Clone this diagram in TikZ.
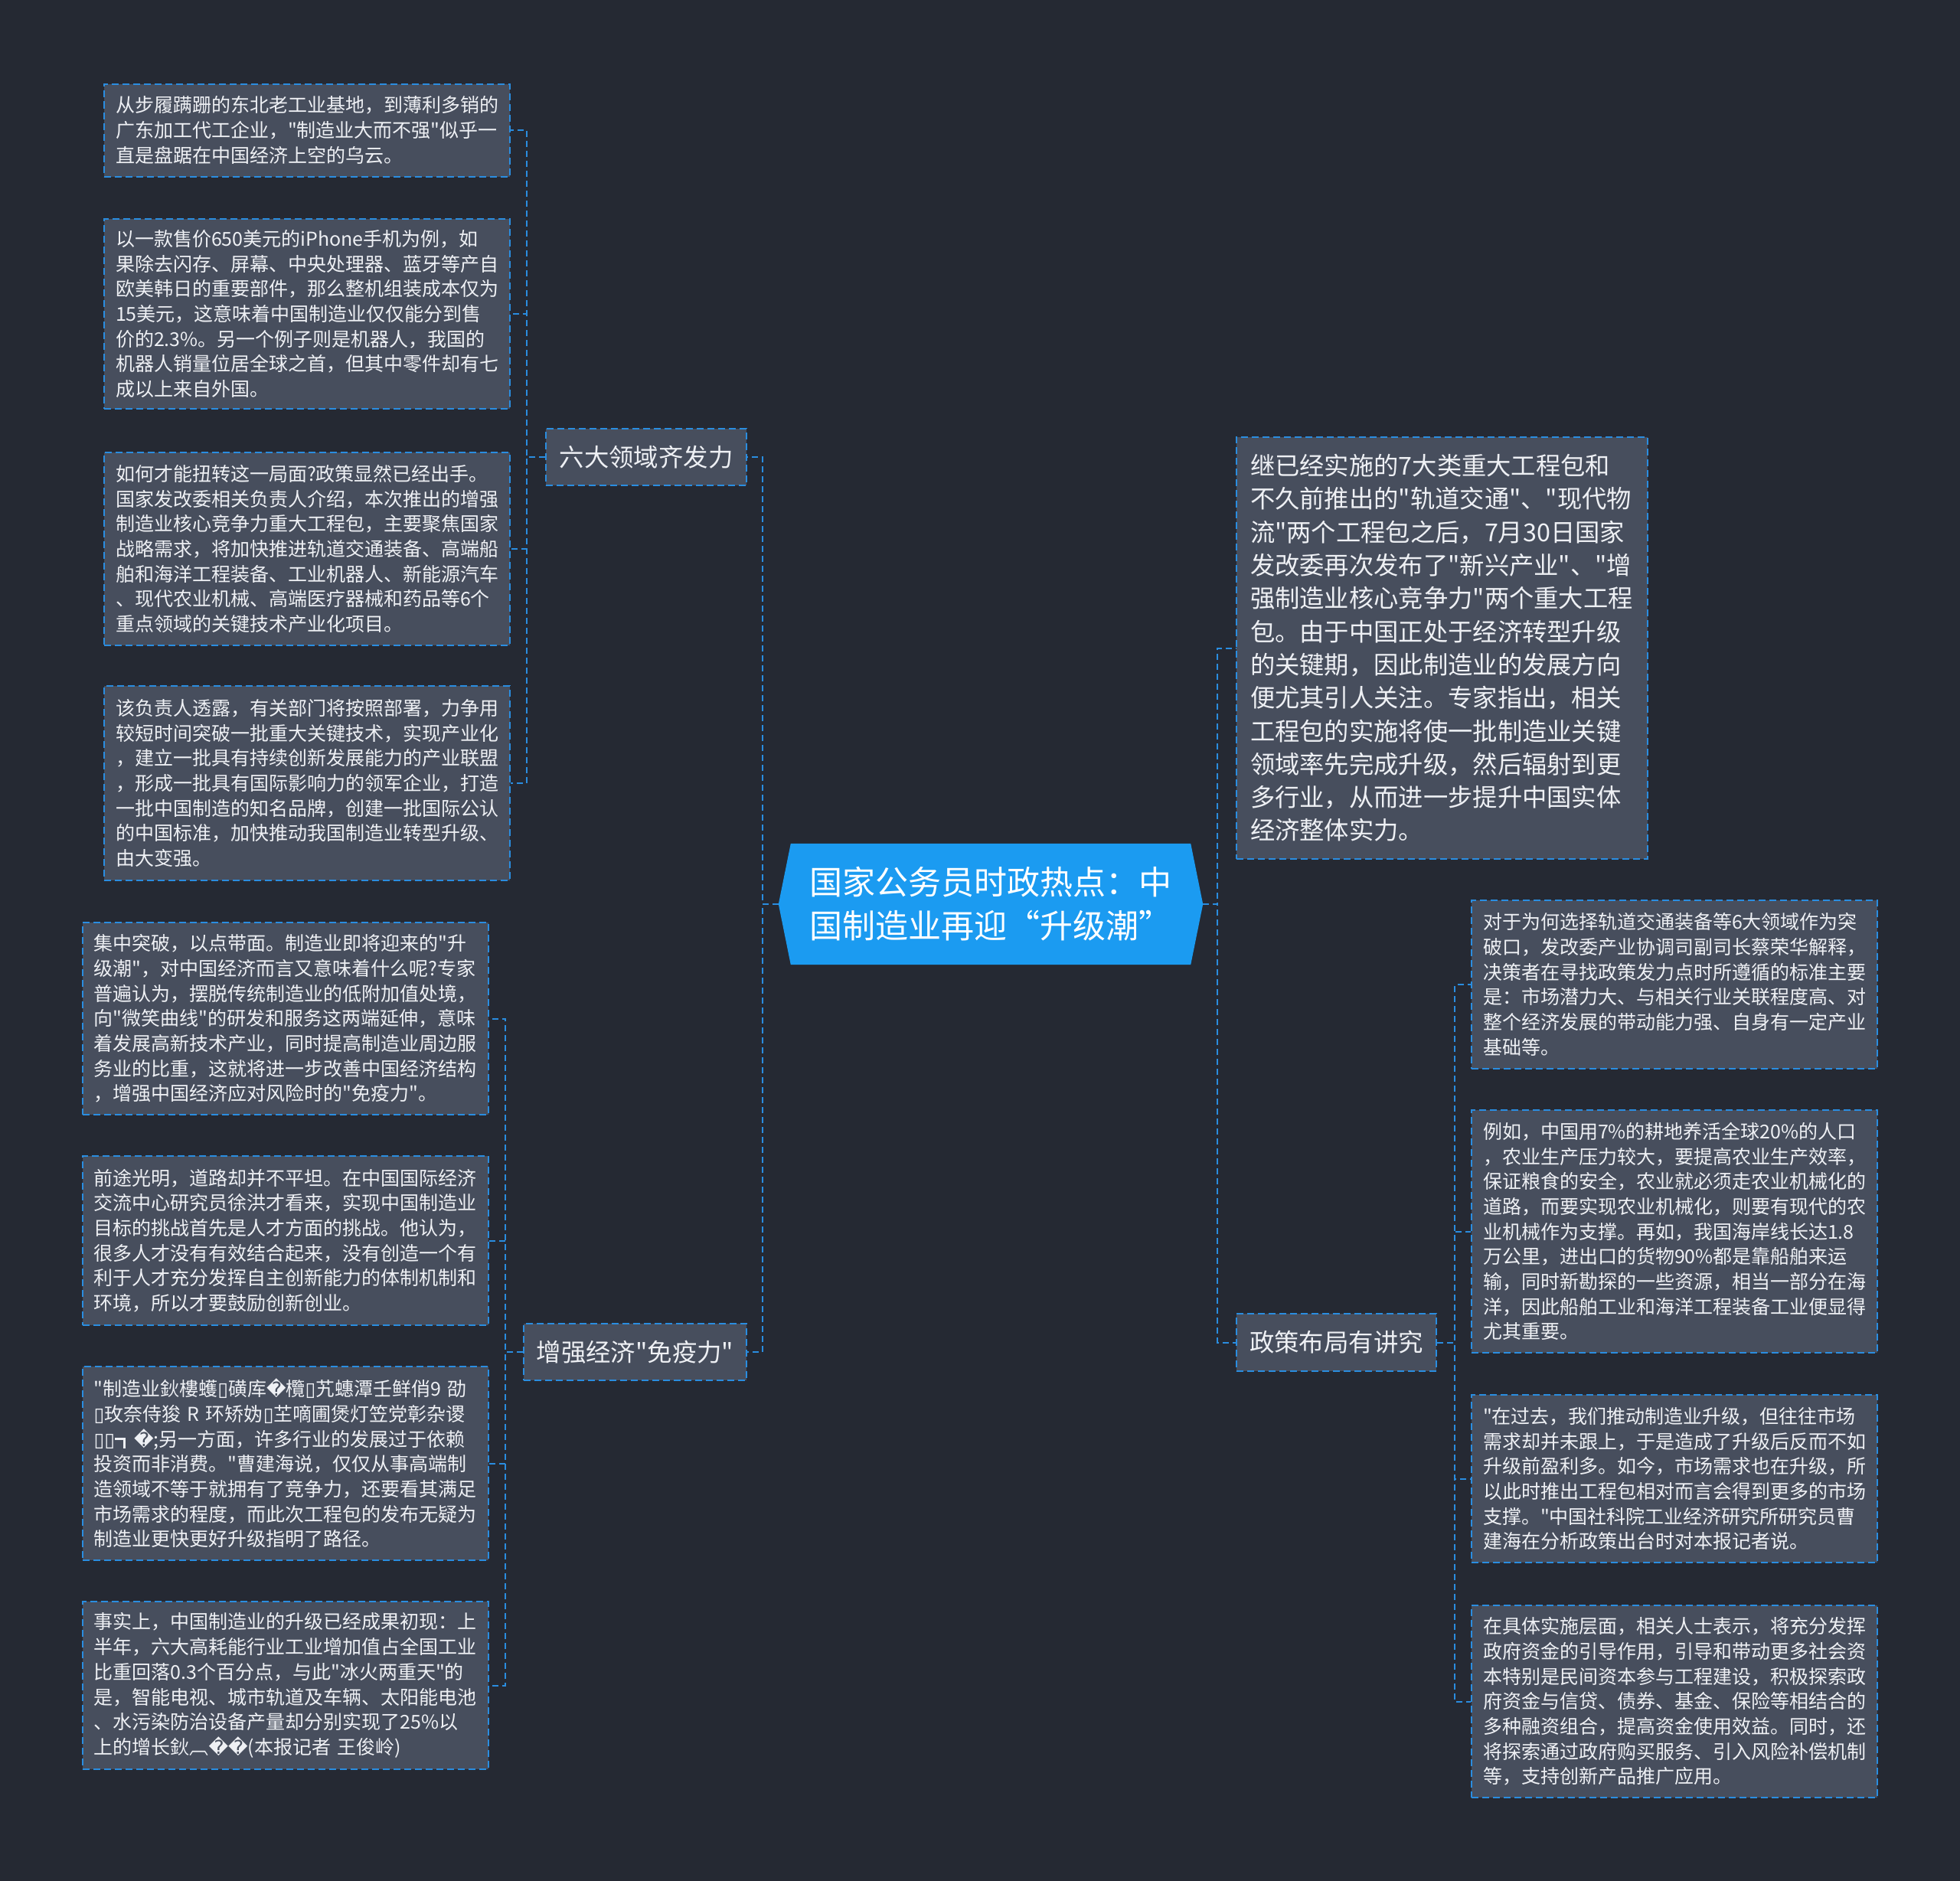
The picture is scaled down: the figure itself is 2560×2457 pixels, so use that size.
\documentclass[tikz,border=0pt]{standalone}
\usepackage{fontspec}
\setmainfont{Noto Sans CJK SC}[Ligatures=TeXOff]
\newfontfamily\dvfont{DejaVu Sans}
\usetikzlibrary{backgrounds}
\definecolor{bgc}{HTML}{252933}
\definecolor{leaffill}{HTML}{474E5D}
\definecolor{bl}{HTML}{2A8DE0}
\definecolor{rootfill}{HTML}{1B9BF1}
\definecolor{txt}{HTML}{EEF0F4}
\newcommand\leaffont{\fontsize{25}{32.7}\selectfont}
\newcommand\bigboxfont{\fontsize{32.3}{43.3}\selectfont}
\newcommand\brfont{\fontsize{32.4}{40}\selectfont}
\newcommand\rootfont{\fontsize{43}{57}\selectfont}
\newcommand\mjbox{{\dvfont ▯}}
\newcommand\mjrep{{\dvfont �}}
\begin{document}
\begin{tikzpicture}[x=1pt,y=-1pt,
  boxline/.style={draw=bl, line width=2pt, dash pattern=on 9pt off 5pt},
  leafbox/.style={boxline, fill=leaffill, text=txt, font=\leaffont, align=left,
    text width=500pt, inner xsep=15pt, inner ysep=0pt},
  bigbox/.style={boxline, fill=leaffill, text=txt, font=\bigboxfont, align=left,
    text width=501pt, inner xsep=18pt, inner ysep=0pt},
  brbox/.style={boxline, fill=leaffill, text=txt, font=\brfont, inner sep=0pt},
  rootbox/.style={text=white, font=\rootfont, align=left, inner sep=0pt,
    minimum width=554pt, minimum height=158pt},
  conn/.style={draw=bl, line width=2pt, dash pattern=on 8pt off 5pt}]
\useasboundingbox (0,0) rectangle (2560,2457);

% central topic
\node[rootbox] (root) at (1294,1181) {国家公务员时政热点：中\\国制造业再迎“升级潮”};

% branches
\node[brbox, minimum width=262pt, minimum height=74pt] (b1) at (844,597) {六大领域齐发力};
\node[brbox, minimum width=291pt, minimum height=74pt] (b2) at (829.5,1766) {增强经济"免疫力"};
\node[bigbox, minimum height=551pt] (r1) at (1883.5,846.5) {继已经实施的7大类重大工程包和\\
不久前推出的"轨道交通"、"现代物\\
流"两个工程包之后，7月30日国家\\
发改委再次发布了"新兴产业"、"增\\
强制造业核心竞争力"两个重大工程\\
包。由于中国正处于经济转型升级\\
的关键期，因此制造业的发展方向\\
便尤其引人关注。专家指出，相关\\
工程包的实施将使一批制造业关键\\
领域率先完成升级，然后辐射到更\\
多行业，从而进一步提升中国实体\\
经济整体实力。};
\node[brbox, minimum width=261pt, minimum height=75pt] (r2) at (1745.5,1753.5) {政策布局有讲究};

% leaves of b1
\node[leafbox, minimum height=121pt] (L1) at (401,170) {从步履蹒跚的东北老工业基地，到薄利多销的\\
广东加工代工企业，"制造业大而不强"似乎一\\
直是盘踞在中国经济上空的乌云。};
\node[leafbox, minimum height=248pt] (L2) at (401,410) {以一款售价650美元的iPhone手机为例，如\\
果除去闪存、屏幕、中央处理器、蓝牙等产自\\
欧美韩日的重要部件，那么整机组装成本仅为\\
15美元，这意味着中国制造业仅仅能分到售\\
价的2.3\%。另一个例子则是机器人，我国的\\
机器人销量位居全球之首，但其中零件却有七\\
成以上来自外国。};
\node[leafbox, minimum height=252pt] (L3) at (401,717) {如何才能扭转这一局面?政策显然已经出手。\\
国家发改委相关负责人介绍，本次推出的增强\\
制造业核心竞争力重大工程包，主要聚焦国家\\
战略需求，将加快推进轨道交通装备、高端船\\
舶和海洋工程装备、工业机器人、新能源汽车\\
、现代农业机械、高端医疗器械和药品等6个\\
重点领域的关键技术产业化项目。};
\node[leafbox, minimum height=254pt] (L4) at (401,1023) {该负责人透露，有关部门将按照部署，力争用\\
较短时间突破一批重大关键技术，实现产业化\\
，建立一批具有持续创新发展能力的产业联盟\\
，形成一批具有国际影响力的领军企业，打造\\
一批中国制造的知名品牌，创建一批国际公认\\
的中国标准，加快推动我国制造业转型升级、\\
由大变强。};

% leaves of b2
\node[leafbox, minimum height=251pt] (L5) at (372.5,1330.5) {集中突破，以点带面。制造业即将迎来的"升\\
级潮"，对中国经济而言又意味着什么呢?专家\\
普遍认为，摆脱传统制造业的低附加值处境，\\
向"微笑曲线"的研发和服务这两端延伸，意味\\
着发展高新技术产业，同时提高制造业周边服\\
务业的比重，这就将进一步改善中国经济结构\\
，增强中国经济应对风险时的"免疫力"。};
\node[leafbox, minimum height=221pt] (L6) at (372.5,1620.5) {前途光明，道路却并不平坦。在中国国际经济\\
交流中心研究员徐洪才看来，实现中国制造业\\
目标的挑战首先是人才方面的挑战。他认为，\\
很多人才没有有效结合起来，没有创造一个有\\
利于人才充分发挥自主创新能力的体制机制和\\
环境，所以才要鼓励创新创业。};
\node[leafbox, minimum height=253pt] (L7) at (372.5,1911.5) {"制造业鈥樓蠖\mjbox 磺库\mjrep 欖\mjbox 艽蟪潭壬鲜俏9~劭\\
\mjbox 玫奈侍狻~R~环矫妫\mjbox 芏嘀圃煲灯笠党彰杂谡\\
\mjbox\mjbox ┓\mjrep ;另一方面，许多行业的发展过于依赖\\
投资而非消费。"曹建海说，仅仅从事高端制\\
造领域不等于就拥有了竞争力，还要看其满足\\
市场需求的程度，而此次工程包的发布无疑为\\
制造业更快更好升级指明了路径。};
\node[leafbox, minimum height=219pt] (L8) at (372.5,2201.5) {事实上，中国制造业的升级已经成果初现：上\\
半年，六大高耗能行业工业增加值占全国工业\\
比重回落0.3个百分点，与此"冰火两重天"的\\
是，智能电视、城市轨道及车辆、太阳能电池\\
、水污染防治设备产量却分别实现了25\%以\\
上的增长鈥︹\mjrep\mjrep (本报记者~王俊岭)};

% leaves of r2
\node[leafbox, minimum height=220pt] (R1) at (2187,1286) {对于为何选择轨道交通装备等6大领域作为突\\
破口，发改委产业协调司副司长蔡荣华解释，\\
决策者在寻找政策发力点时所遵循的标准主要\\
是：市场潜力大、与相关行业关联程度高、对\\
整个经济发展的带动能力强、自身有一定产业\\
基础等。};
\node[leafbox, minimum height=317pt] (R2) at (2187,1608.5) {例如，中国用7\%的耕地养活全球20\%的人口\\
，农业生产压力较大，要提高农业生产效率，\\
保证粮食的安全，农业就必须走农业机械化的\\
道路，而要实现农业机械化，则要有现代的农\\
业机械作为支撑。再如，我国海岸线长达1.8\\
万公里，进出口的货物90\%都是靠船舶来运\\
输，同时新勘探的一些资源，相当一部分在海\\
洋，因此船舶工业和海洋工程装备工业便显得\\
尤其重要。};
\node[leafbox, minimum height=219pt] (R3) at (2187,1931.5) {"在过去，我们推动制造业升级，但往往市场\\
需求却并未跟上，于是造成了升级后反而不如\\
升级前盈利多。如今，市场需求也在升级，所\\
以此时推出工程包相对而言会得到更多的市场\\
支撑。"中国社科院工业经济研究所研究员曹\\
建海在分析政策出台时对本报记者说。};
\node[leafbox, minimum height=251pt] (R4) at (2187,2222.5) {在具体实施层面，相关人士表示，将充分发挥\\
政府资金的引导作用，引导和带动更多社会资\\
本特别是民间资本参与工程建设，积极探索政\\
府资金与信贷、债券、基金、保险等相结合的\\
多种融资组合，提高资金使用效益。同时，还\\
将探索通过政府购买服务、引入风险补偿机制\\
等，支持创新产品推广应用。};

\begin{scope}[on background layer]
  \fill[bgc] (0,0) rectangle (2560,2457);
  \fill[rootfill] (root.west) -- ([xshift=16pt]root.north west) -- ([xshift=-16pt]root.north east)
    -- (root.east) -- ([xshift=-16pt]root.south east) -- ([xshift=16pt]root.south west) -- cycle;
  % connectors
  \draw[conn] (root.west) -- ++(-21,0) |- (b1.east);
  \draw[conn] (root.west) -- ++(-21,0) |- (b2.east);
  \draw[conn] (root.east) -- ++(19,0) |- (r1.west);
  \draw[conn] (root.east) -- ++(19,0) |- (r2.west);
  \foreach \n in {L1,L2,L3,L4} \draw[conn] (b1.west) -- ++(-24,0) |- (\n.east);
  \foreach \n in {L5,L6,L7,L8} \draw[conn] (b2.west) -- ++(-23,0) |- (\n.east);
  \foreach \n in {R1,R2,R3,R4} \draw[conn] (r2.east) -- ++(23,0) |- (\n.west);
\end{scope}
\end{tikzpicture}
\end{document}
